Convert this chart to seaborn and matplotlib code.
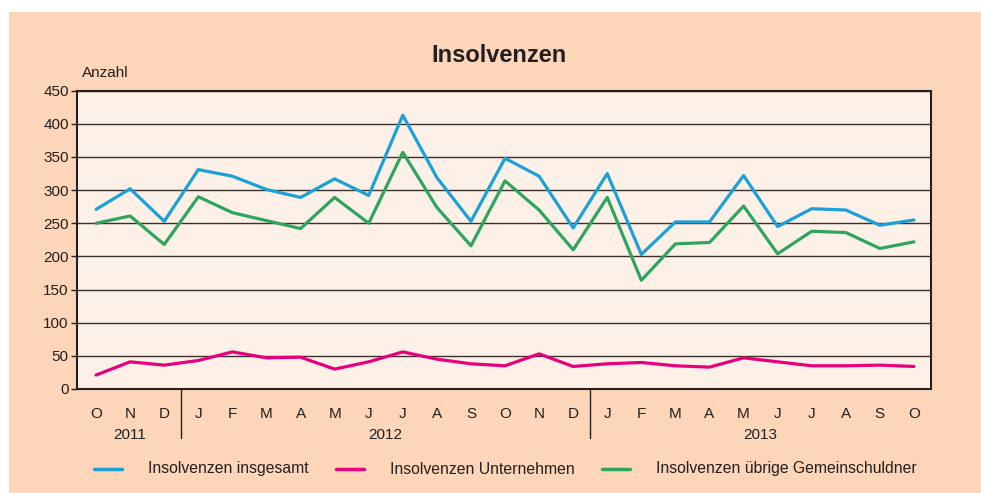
import matplotlib
matplotlib.use("Agg")
import matplotlib.pyplot as plt
import seaborn as sns
import pandas as pd
from matplotlib.patches import Rectangle
from matplotlib.lines import Line2D

# monthly values, Oct 2011 - Oct 2013
months = ["O", "N", "D",
          "J", "F", "M", "A", "M", "J", "J", "A", "S", "O", "N", "D",
          "J", "F", "M", "A", "M", "J", "J", "A", "S", "O"]
years = ["2011", "2012", "2013"]

insgesamt = [271, 302, 253, 331, 321, 301, 289, 317, 292, 413, 319, 253, 348,
             321, 243, 325, 203, 252, 252, 322, 245, 272, 270, 247, 255]
unternehmen = [21, 41, 36, 43, 56, 47, 48, 30, 41, 56, 45, 38, 35,
               53, 34, 38, 40, 35, 33, 47, 41, 35, 35, 36, 34]
uebrige = [250, 261, 218, 290, 266, 254, 242, 289, 250, 357, 274, 216, 314,
           270, 210, 289, 164, 219, 221, 276, 204, 238, 236, 212, 222]

labels = ["Insolvenzen insgesamt", "Insolvenzen Unternehmen",
          "Insolvenzen übrige Gemeinschuldner"]
colors = ["#1ba1d8", "#e6007e", "#2ea55e"]

idx = list(range(len(months)))
df = pd.concat([
    pd.DataFrame({"pos": idx, "wert": insgesamt, "reihe": labels[0]}),
    pd.DataFrame({"pos": idx, "wert": unternehmen, "reihe": labels[1]}),
    pd.DataFrame({"pos": idx, "wert": uebrige, "reihe": labels[2]}),
])

sns.set_style("white")
plt.rcParams['font.family'] = ['Liberation Sans', 'DejaVu Sans']
fs = 11

fig = plt.figure(figsize=(9.81, 4.93), dpi=100, facecolor="white")
# peach panel with small white margin top/left
fig.patches.append(Rectangle((9 / 981, 0), 1, 1 - 12 / 493, transform=fig.transFigure,
                             facecolor="#fdd5b8", edgecolor="none", zorder=-10))

ax = fig.add_axes([77 / 981, 1 - 389 / 493, (931 - 77) / 981, (389 - 90.7) / 493])
ax.set_facecolor("#fdf1e7")

sns.lineplot(data=df, x="pos", y="wert", hue="reihe", palette=colors,
             linewidth=2.3, legend=False, ax=ax, zorder=3)

ax.set_xlim(-0.56, 24.5)
ax.set_ylim(0, 450)
ax.set_yticks(range(0, 451, 50))
ax.yaxis.grid(True, color="#3a302c", linewidth=1.0)
ax.tick_params(axis="y", direction="out", length=4, width=1, color="#2a2020",
               labelsize=fs, labelcolor="#231f20", pad=2, left=True)
ax.set_xticks(idx)
ax.set_xticklabels(months)
ax.set_xticks([i + 0.5 for i in idx[:-1]], minor=True)
ax.tick_params(axis="x", which="major", length=0, labelsize=fs,
               labelcolor="#231f20", pad=13)
ax.tick_params(axis="x", which="minor", direction="in", length=3, color="#2a2020")
for s in ax.spines.values():
    s.set_color("#2a2020")
    s.set_linewidth(1.5)
ax.set_xlabel("")
ax.set_ylabel("")

# year separators and labels
for xs in [2.5, 14.5]:
    ax.plot([xs, xs], [0, -74], color="#2a2020", linewidth=1,
            clip_on=False, transform=ax.transData)
ax.text(1, -70, years[0], ha="center", va="center", fontsize=fs, color="#231f20")
ax.text(8.5, -70, years[1], ha="center", va="center", fontsize=fs, color="#231f20")
ax.text(19.5, -70, years[2], ha="center", va="center", fontsize=fs, color="#231f20")

fig.text(499 / 981, 1 - 55 / 493, "Insolvenzen", ha="center", va="center",
         fontsize=17, fontweight="bold", color="#231f20")
fig.text(82 / 981, 1 - 73 / 493, "Anzahl", ha="left", va="center",
         fontsize=fs, color="#231f20")

# legend
leg_y = 1 - 469 / 493
for (x0, x1, xt), lab, col in zip([(94, 122, 148), (336, 364, 390), (602, 630, 656)],
                                  labels, colors):
    fig.lines.append(Line2D([x0 / 981, x1 / 981], [leg_y, leg_y], color=col,
                            linewidth=2.5, transform=fig.transFigure))
    fig.text(xt / 981, leg_y, lab, ha="left", va="center", fontsize=11.3,
             color="#231f20")

fig.savefig("out.png", dpi=100, facecolor=fig.get_facecolor())
